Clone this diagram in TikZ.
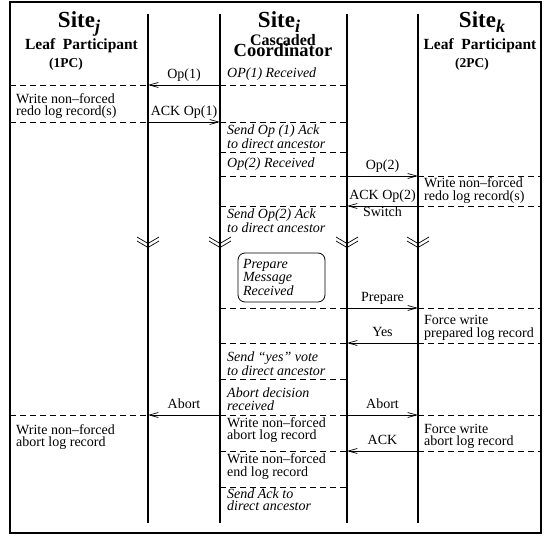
\documentclass[tikz,border=0pt]{standalone}
\usepackage{fontspec}
\setmainfont{Liberation Serif}
\usetikzlibrary{arrows.meta, positioning, calc}

\begin{document}
\begin{tikzpicture}[x=1pt, y=-1pt,
  frame/.style={line width=2.5pt},
  life/.style={line width=2.3pt},
  sep/.style={dash pattern=on 6pt off 4pt, line width=0.6pt},
  msg/.style={-{Straight Barb[length=9pt,width=5pt]}, line width=0.7pt},
  lbl/.style={font=\fontsize{14}{14}\selectfont, inner sep=0pt, anchor=base, yshift=6.5pt},
  lblb/.style={font=\fontsize{14}{14}\selectfont, inner sep=0pt, anchor=base, yshift=-11pt},
  txt/.style={font=\fontsize{14}{12.5}\selectfont, align=left, inner sep=0pt, anchor=north west},
  act/.style={txt, font=\fontsize{14}{12.5}\selectfont\itshape},
  head/.style={font=\fontsize{23}{23}\selectfont\bfseries, inner sep=0pt, anchor=base},
  role/.style={font=\fontsize{15.5}{15.5}\selectfont\bfseries, inner sep=0pt, anchor=base},
  tag/.style={font=\fontsize{13.5}{13.5}\selectfont\bfseries, inner sep=0pt, anchor=base},
  prepbox/.style={draw, rounded corners=7pt, line width=0.8pt, minimum width=87pt,
    minimum height=49pt, text width=77pt, inner sep=5pt, align=left,
    font=\fontsize{14}{10.5}\selectfont\itshape},
  chev/.style={line width=0.7pt},
  brk/.pic={\draw[chev] (-11,0) -- (0,6.5) -- (11,0) (-11,4) -- (0,10.5) -- (11,4);},
]
  \useasboundingbox (0,0) rectangle (548,537);
  \draw[frame] (10,2) rectangle (541,533);

  % lifelines
  \coordinate (jtop) at (148,14);  \coordinate (jbot) at (148,523);
  \coordinate (itop) at (220,14);  \coordinate (ibot) at (220,523);
  \coordinate (mtop) at (347,14);  \coordinate (mbot) at (347,523);
  \coordinate (ktop) at (418,14);  \coordinate (kbot) at (418,523);
  \coordinate (fl) at (10,0);      \coordinate (fr) at (541,0);
  \draw[life] (jtop) -- (jbot);
  \draw[life] (itop) -- (ibot);
  \draw[life] (mtop) -- (mbot);
  \draw[life] (ktop) -- (kbot);

  % headers
  \node[head] (sitej) at (79,28) {Site\raisebox{-4.5pt}{\fontsize{18}{18}\selectfont\itshape j}};
  \node[role] (leafj) at (81.5,50) {Leaf\ \ Participant};
  \node[tag] (pcj) at (66,68) {(1PC)};
  \node[head] (sitei) at (279,28) {Site\raisebox{-4.5pt}{\fontsize{18}{18}\selectfont\itshape i}};
  \node[font=\fontsize{16}{16}\selectfont\bfseries, inner sep=0pt, anchor=base] (casc) at (283,46) {Cascaded};
  \node[font=\fontsize{18.5}{18.5}\selectfont\bfseries, inner sep=0pt, anchor=base] (coord) at (283,57) {Coordinator};
  \node[head] (sitek) at (482,28) {Site\raisebox{-4.5pt}{\fontsize{18}{18}\selectfont\itshape k}};
  \node[role] (leafk) at (480,50) {Leaf\ \ Participant};
  \node[tag] (pck) at (472,68) {(2PC)};

  % rows
  \coordinate (r1) at (0,85);   \coordinate (r2) at (0,122);
  \coordinate (r3) at (0,152);  \coordinate (r4) at (0,176);
  \coordinate (r5) at (0,206);  \coordinate (r6) at (0,308);
  \coordinate (r7) at (0,343);  \coordinate (r8) at (0,379);
  \coordinate (r9) at (0,415);  \coordinate (r10) at (0,451);
  \coordinate (r11) at (0,487); \coordinate (cb) at (0,237);

  % separators
  \draw[sep] (fl |- r1) -- (jtop |- r1);  \draw[sep] (itop |- r1) -- (mtop |- r1);
  \draw[sep] (fl |- r2) -- (jtop |- r2);  \draw[sep] (itop |- r2) -- (mtop |- r2);
  \draw[sep] (itop |- r3) -- (mtop |- r3);
  \draw[sep] (itop |- r4) -- (mtop |- r4);  \draw[sep] (ktop |- r4) -- (fr |- r4);
  \draw[sep] (itop |- r5) -- (mtop |- r5);  \draw[sep] (ktop |- r5) -- (fr |- r5);
  \draw[sep] (itop |- r6) -- (mtop |- r6);  \draw[sep] (ktop |- r6) -- (fr |- r6);
  \draw[sep] (itop |- r7) -- (mtop |- r7);  \draw[sep] (ktop |- r7) -- (fr |- r7);
  \draw[sep] (itop |- r8) -- (mtop |- r8);
  \draw[sep] (fl |- r9) -- (jtop |- r9);  \draw[sep] (itop |- r9) -- (mtop |- r9);
  \draw[sep] (ktop |- r9) -- (fr |- r9);
  \draw[sep] (itop |- r10) -- (mtop |- r10);  \draw[sep] (ktop |- r10) -- (fr |- r10);
  \draw[sep] (itop |- r11) -- (mtop |- r11);

  % messages
  \draw[msg] (itop |- r1) -- node[lbl] {Op(1)} (jtop |- r1);
  \draw[msg] (jtop |- r2) -- node[lbl] {ACK Op(1)} (itop |- r2);
  \draw[msg] (mtop |- r4) -- node[lbl] {Op(2)} (ktop |- r4);
  \draw[msg] (ktop |- r5) -- node[lbl] {ACK Op(2)} node[lblb] {Switch} (mtop |- r5);
  \draw[msg] (mtop |- r6) -- node[lbl] {Prepare} (ktop |- r6);
  \draw[msg] (ktop |- r7) -- node[lbl] {Yes} (mtop |- r7);
  \draw[msg] (itop |- r9) -- node[lbl] {Abort} (jtop |- r9);
  \draw[msg] (mtop |- r9) -- node[lbl] {Abort} (ktop |- r9);
  \draw[msg] (ktop |- r10) -- node[lbl] {ACK} (mtop |- r10);

  % breaks
  \pic at (jtop |- cb) {brk};
  \pic at (itop |- cb) {brk};
  \pic at (mtop |- cb) {brk};
  \pic at (ktop |- cb) {brk};

  % site j actions
  \node[txt] (jredo) at (16,93) {Write non--forced\\redo log record(s)};
  \node[txt] (jabort) at (16,424) {Write non--forced\\abort log record};

  % site i actions
  \node[act, anchor=base west] (irecv1) at (227,78) {OP(1) Received};
  \node[act] (iack1) at (227,124.5) {Send Op (1) Ack\\to direct ancestor};
  \node[act, anchor=base west] (irecv2) at (227,168) {Op(2) Received};
  \node[act] (iack2) at (227,208.5) {Send Op(2) Ack\\to direct ancestor};
  \node[prepbox] (prep) at (281.5,277.5) {Prepare\\Message\\Received};
  \node[act] (ivote) at (227,351.5) {Send ``yes'' vote\\to direct ancestor};
  \node[act] (idec) at (227,388) {Abort decision\\received};
  \node[txt] (iabort) at (227,417) {Write non--forced\\abort log record};
  \node[txt] (iend) at (227,453.5) {Write non--forced\\end log record};
  \node[act] (iack3) at (227,488.5) {Send Ack to\\direct ancestor};

  % site k actions
  \node[txt] (kredo) at (424,177.5) {Write non--forced\\redo log record(s)};
  \node[txt] (kprep) at (424,315.5) {Force write\\prepared log record};
  \node[txt] (kabort) at (424,424) {Force write\\abort log record};
\end{tikzpicture}
\end{document}
